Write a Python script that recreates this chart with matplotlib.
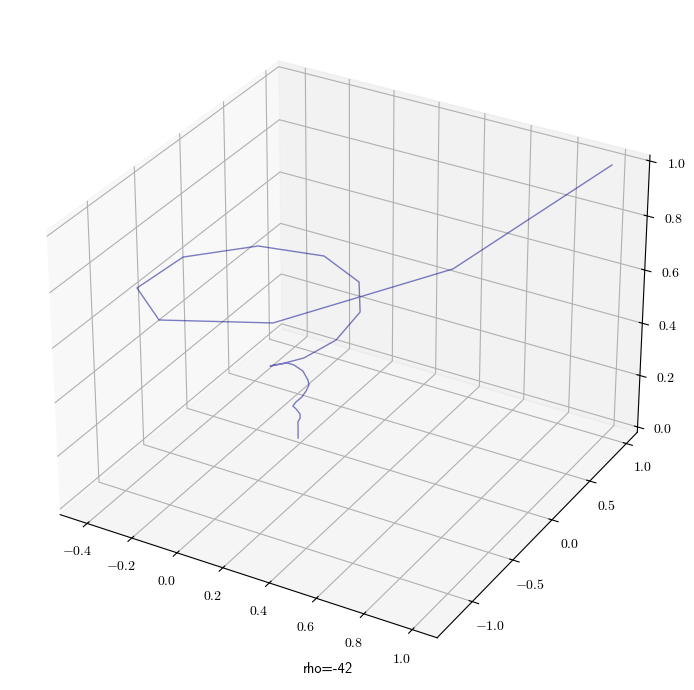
import numpy as np
import matplotlib
matplotlib.use("Agg")
import matplotlib.pyplot as plt

plt.rcParams['font.family'] = ['cmr10', 'DejaVu Sans']
plt.rcParams['mathtext.fontset'] = 'cm'
plt.rcParams['axes.formatter.use_mathtext'] = True
plt.rcParams['axes.unicode_minus'] = True

x_values = [-0.006, 0.006, 0.011, 0.015, 0.035, 0.047, 0.043, 0.049, 0.072, 0.101,
            0.12, 0.135, 0.141, 0.119, 0.095, 0.094, 0.079, 0.145, 0.216, 0.281,
            0.282, 0.192, 0.003, -0.226, -0.395, -0.383, -0.103, 0.318, 0.744, 0.994]
y_values = [-0.011, -0.043, -0.055, -0.067, -0.093, -0.126, -0.161, -0.214, -0.238, -0.244,
            -0.245, -0.25, -0.278, -0.277, -0.318, -0.394, -0.55, -0.551, -0.521, -0.321,
            -0.039, 0.196, 0.29, 0.117, -0.308, -0.843, -1.288, -1.129, -0.241, 0.995]
z_values = [0.0, 0.028, 0.056, 0.084, 0.112, 0.14, 0.168, 0.196, 0.224, 0.252,
            0.28, 0.308, 0.336, 0.364, 0.392, 0.42, 0.448, 0.476, 0.504, 0.532,
            0.56, 0.588, 0.616, 0.644, 0.672, 0.7, 0.77, 0.82, 0.88, 1.0]
x_ticks = [-0.4, -0.2, 0.0, 0.2, 0.4, 0.6, 0.8, 1.0]
y_ticks = [-1.0, -0.5, 0.0, 0.5, 1.0]
z_ticks = [0.0, 0.2, 0.4, 0.6, 0.8, 1.0]
caption = 'rho=-42'

W, H = 694, 690
S = 671
fig = plt.figure(figsize=(W / 100, H / 100), dpi=100)
ax = fig.add_axes([(345 - S / 2) / W, (H - 344.6 - S / 2) / H, S / W, S / H], projection='3d')
ax.plot(x_values, y_values, z_values, color='darkblue', alpha=0.5, lw=1)
ax.set_xlim(-0.522, 1.102)
ax.set_ylim(-1.42, 1.154)
ax.set_zlim(-1 / 48, 1 + 1 / 48)
ax.set_xticks(x_ticks)
ax.set_yticks(y_ticks)
ax.set_zticks(z_ticks)
fig.text(328 / W, 1 - 669 / H, caption, ha='center', va='center', fontsize=10.4, family='cmss10')
fig.savefig('out.png', dpi=100)
